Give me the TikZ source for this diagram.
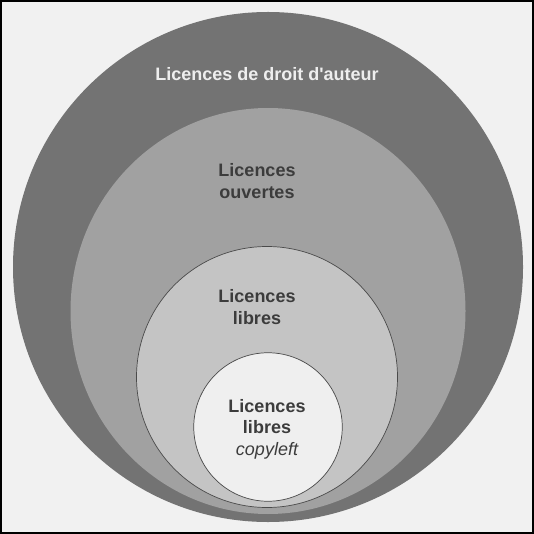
\documentclass[tikz,border=0pt]{standalone}
\usepackage{fontspec}
\setmainfont{Liberation Sans}
\usetikzlibrary{shapes.geometric}
\definecolor{paper}{HTML}{F1F1F1}
\definecolor{ringA}{HTML}{737373}
\definecolor{ringB}{HTML}{A1A1A1}
\definecolor{ringC}{HTML}{C4C4C4}
\definecolor{ringD}{HTML}{EFEFEF}
\definecolor{edge}{HTML}{4A4A4A}
\definecolor{darktext}{HTML}{3C3C3C}
\definecolor{lighttext}{HTML}{EEEEEE}
\tikzset{
  disc/.style={inner sep=0pt, outer sep=0pt},
  lbl/.style={anchor=base, inner sep=0pt, font=\fontsize{18}{21.5}\selectfont\bfseries, text=darktext},
  lbllight/.style={lbl, text=lighttext},
  lblit/.style={anchor=base, inner sep=0pt, font=\fontsize{18}{21.5}\selectfont\itshape, text=darktext}
}
\begin{document}
\begin{tikzpicture}[x=1pt, y=-1pt]
  % page with black frame
  \useasboundingbox (0,0) rectangle (534,534);
  \fill[paper] (0,0) rectangle (534,534);
  \draw[black, line width=2pt] (1,1) rectangle (533,533);

  % nested sets
  \node[disc, circle, minimum size=510pt, fill=ringA] (copyright) at (268,267) {};
  \node[disc, ellipse, minimum width=395pt, minimum height=406pt, fill=ringB] (open) at (268,311) {};
  \node[disc, circle, minimum size=261pt, fill=ringC, draw=edge, line width=0.7pt] (free) at (267,377) {};
  \node[disc, circle, minimum size=148.5pt, fill=ringD, draw=edge, line width=0.7pt] (copyleft) at (268,427) {};

  % labels
  \node[lbllight] (tcopyright) at (267,80.7) {Licences de droit d\textquotesingle auteur};
  \node[lbl] (topen1) at (257,177) {Licences};
  \node[lbl] (topen2) at (257,198.5) {ouvertes};
  \node[lbl] (tfree1) at (257,302.5) {Licences};
  \node[lbl] (tfree2) at (257,324) {libres};
  \node[lbl] (tcl1) at (267,412) {Licences};
  \node[lbl] (tcl2) at (267,433.5) {libres};
  \node[lblit] (tcl3) at (267,455.5) {copyleft};
\end{tikzpicture}
\end{document}
